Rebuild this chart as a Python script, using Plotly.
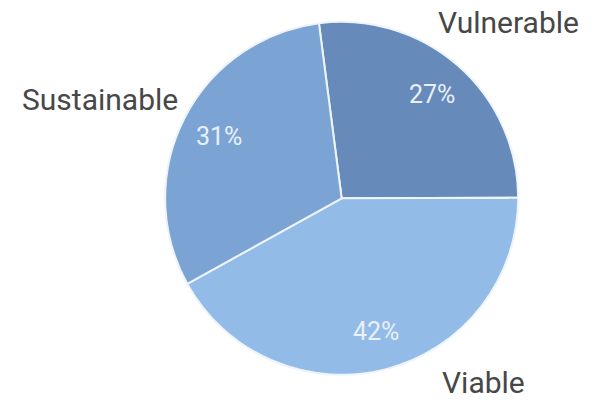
import math
import plotly.graph_objects as go

# Share of assessed units by status
labels = ["Vulnerable", "Viable", "Sustainable"]
values = [27, 42, 31]
colors = ["#668ab9", "#93bbe7", "#7ba4d4"]

# Where the category names sit around the pie (paper coordinates)
label_x = [0.855, 0.812, 0.168]
label_y = [0.945, 0.045, 0.752]

W, H = 595, 401
START_DEG = -7.4           # first slice begins slightly left of 12 o'clock
dom_x = [0.2776, 0.8709]
dom_y = [0.0653, 0.9456]

fig = go.Figure(
    go.Pie(
        labels=labels,
        values=values,
        sort=False,
        direction="clockwise",
        rotation=START_DEG,
        textinfo="none",
        marker=dict(colors=colors, line=dict(color="#eef4fb", width=2)),
        hoverinfo="label+percent",
        showlegend=False,
        domain=dict(x=dom_x, y=dom_y),
    )
)

# Percent labels placed toward the rim of each slice, along its mid-angle
cx = (dom_x[0] + dom_x[1]) / 2 * W
cy = (dom_y[0] + dom_y[1]) / 2 * H
radius = min((dom_x[1] - dom_x[0]) * W, (dom_y[1] - dom_y[0]) * H) / 2
total = sum(values)
acc = 0
for v in values:
    mid = math.radians(START_DEG + (acc + v / 2) / total * 360)
    acc += v
    px = cx + 0.78 * radius * math.sin(mid)
    py = cy + 0.78 * radius * math.cos(mid)
    fig.add_annotation(
        text=f"{round(v / total * 100)}%", x=px / W, y=py / H,
        xref="paper", yref="paper", showarrow=False,
        xanchor="center", yanchor="middle",
        font=dict(family="Roboto", size=25, color="#e9f0fa"),
    )

for name, x, y in zip(labels, label_x, label_y):
    fig.add_annotation(
        text=name, x=x, y=y, xref="paper", yref="paper",
        showarrow=False, xanchor="center", yanchor="middle",
        font=dict(family="Roboto", size=30, color="#474747"),
    )

fig.update_layout(
    width=W, height=H,
    margin=dict(l=0, r=0, t=0, b=0),
    paper_bgcolor="white",
    plot_bgcolor="white",
)

fig.write_html("out.html")
